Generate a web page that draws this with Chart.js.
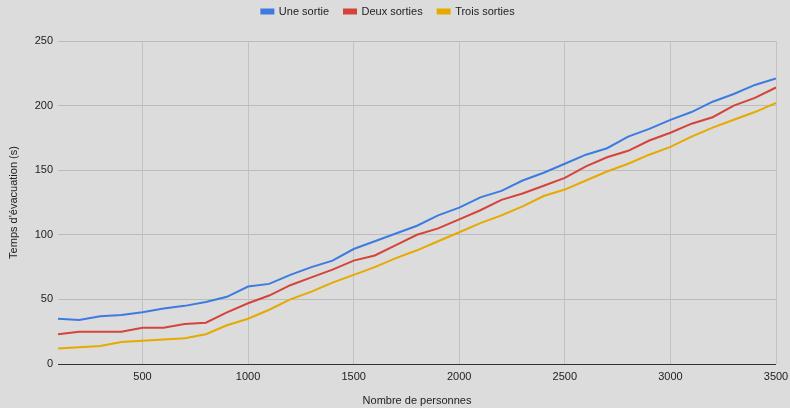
<!DOCTYPE html>
<html>
<head>
<meta charset="utf-8">
<script src="https://cdn.jsdelivr.net/npm/chart.js@4"></script>
<style>
  html, body { margin: 0; padding: 0; background: #dcdcdc; }
  #wrap { width: 790px; height: 408px; }
</style>
</head>
<body>
<div id="wrap"><canvas id="chart" width="790" height="408"></canvas></div>
<script>
// Number of people evacuated
const people = [100, 200, 300, 400, 500, 600, 700, 800, 900, 1000,
                1100, 1200, 1300, 1400, 1500, 1600, 1700, 1800, 1900, 2000,
                2100, 2200, 2300, 2400, 2500, 2600, 2700, 2800, 2900, 3000,
                3100, 3200, 3300, 3400, 3500];

// Evacuation time (s) per number of exits
const oneExit    = [35, 34, 37, 38, 40, 43, 45, 48, 52, 60,
                    62, 69, 75, 80, 89, 95, 101, 107, 115, 121,
                    129, 134, 142, 148, 155, 162, 167, 176, 182, 189,
                    195, 203, 209, 216, 221];
const twoExits   = [23, 25, 25, 25, 28, 28, 31, 32, 40, 47,
                    53, 61, 67, 73, 80, 84, 92, 100, 105, 112,
                    119, 127, 132, 138, 144, 153, 160, 165, 173, 179,
                    186, 191, 200, 206, 214];
const threeExits = [12, 13, 14, 17, 18, 19, 20, 23, 30, 35,
                    42, 50, 56, 63, 69, 75, 82, 88, 95, 102,
                    109, 115, 122, 130, 135, 142, 149, 155, 162, 168,
                    176, 183, 189, 195, 202];

const seriesNames = ['Une sortie', 'Deux sorties', 'Trois sorties'];
const xTicks = [500, 1000, 1500, 2000, 2500, 3000, 3500];
const yTicks = [0, 50, 100, 150, 200, 250];

const colors = ['#3d7be0', '#d5433a', '#e6a900'];
const fontFamily = '"Liberation Sans", Arial, Helvetica, sans-serif';

const toPoints = values => people.map((p, i) => ({ x: p, y: values[i] }));

const datasets = [oneExit, twoExits, threeExits].map((values, i) => ({
  label: seriesNames[i],
  data: toPoints(values),
  borderColor: colors[i],
  backgroundColor: colors[i],
  borderWidth: 2,
  pointRadius: 0,
  pointHoverRadius: 0,
  tension: 0,
  fill: false
}));

// Extra room between the legend and the plot
const legendGap = {
  id: 'legendGap',
  afterInit(chart) {
    const legend = chart.legend;
    if (!legend) return;
    const fit = legend.fit;
    legend.fit = function () {
      fit.apply(this, arguments);
      this.height += 14;
    };
  }
};

Chart.defaults.font.family = fontFamily;
Chart.defaults.font.size = 11;
Chart.defaults.color = '#222';

const plainNumber = value => String(value);

new Chart(document.getElementById('chart'), {
  type: 'line',
  data: { datasets },
  plugins: [legendGap],
  options: {
    responsive: false,
    animation: false,
    layout: { padding: { left: 0, right: 14, top: -9, bottom: 0 } },
    plugins: {
      legend: {
        position: 'top',
        align: 'center',
        labels: {
          boxWidth: 12,
          boxHeight: 4,
          padding: 15,
          color: '#222',
          font: { size: 11, family: fontFamily }
        }
      },
      tooltip: { enabled: false }
    },
    scales: {
      x: {
        type: 'linear',
        min: 100,
        max: 3500,
        afterBuildTicks: axis => {
          axis.ticks = xTicks.map(v => ({ value: v }));
        },
        afterFit: axis => {
          axis.height = 44;
          axis.paddingLeft = 0;
          axis.paddingRight = 0;
        },
        ticks: { padding: 6, maxRotation: 0, color: '#222', callback: plainNumber },
        grid: { color: '#c2c2c2', lineWidth: 1, drawTicks: false },
        border: { display: false },
        title: {
          display: true,
          text: 'Nombre de personnes',
          color: '#222',
          font: { size: 11 },
          padding: { top: 4, bottom: 0 }
        }
      },
      y: {
        type: 'linear',
        min: 0,
        max: 250,
        afterBuildTicks: axis => {
          axis.ticks = yTicks.map(v => ({ value: v }));
        },
        afterFit: axis => { axis.width = 58; },
        ticks: { padding: 5, color: '#222', callback: plainNumber },
        grid: {
          color: ctx => (ctx.tick && ctx.tick.value === 0 ? '#333333' : '#bcbcbc'),
          lineWidth: 1,
          drawTicks: false
        },
        border: { display: false },
        title: {
          display: true,
          text: "Temps d'évacuation (s)",
          color: '#222',
          font: { size: 11 },
          padding: { top: 7, bottom: 4 }
        }
      }
    }
  }
});
</script>
</body>
</html>
